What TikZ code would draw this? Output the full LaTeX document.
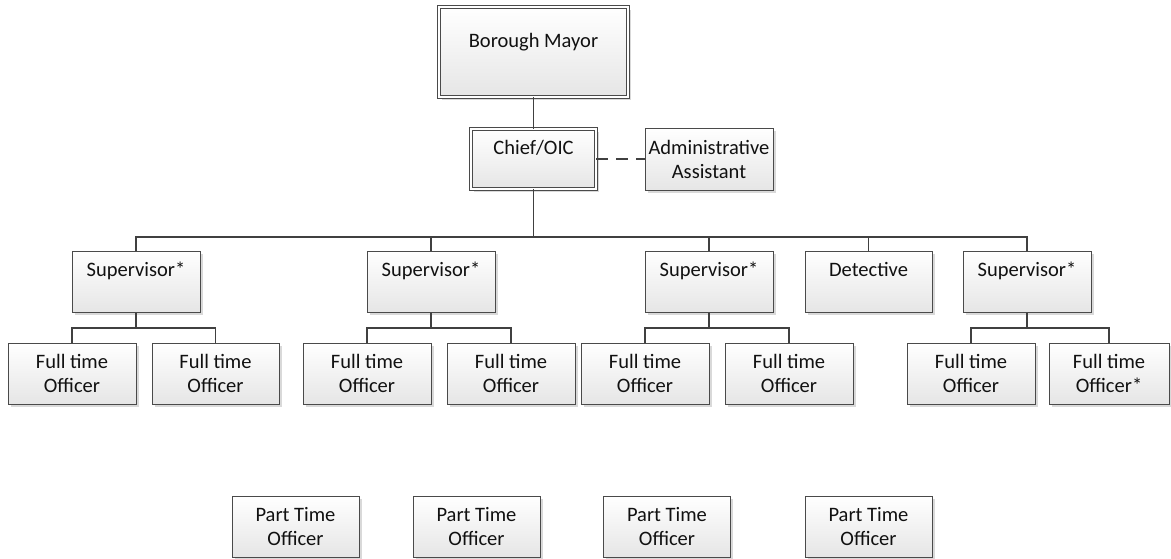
\documentclass[tikz,border=0pt]{standalone}
\usepackage{fontspec}
\setmainfont{Carlito}
\usetikzlibrary{shadows}
\definecolor{edge}{HTML}{4A4A4A}
\definecolor{wire}{HTML}{404040}
\definecolor{txt}{HTML}{111111}
\tikzset{
  box/.style={draw=edge, line width=1pt, top color=white, bottom color=black!10,
    drop shadow={shadow xshift=2.5pt, shadow yshift=-2.5pt, fill=black!15, opacity=1},
    align=center, inner sep=0pt, text=txt,
    font=\fontsize{20.5}{24}\selectfont, minimum width=128pt, minimum height=61pt},
  dbox/.style={box, double=white, double distance=2pt, line width=0.9pt},
  wirestyle/.style={draw=wire, line width=1.5pt},
  dashwire/.style={wirestyle, dash pattern=on 12pt off 8pt}
}
\begin{document}
\begin{tikzpicture}[x=1pt, y=-1pt]
\useasboundingbox (0,0) rectangle (1171,558);
% top
\node[dbox, minimum width=189pt, minimum height=90pt] (mayor) at (533.5,52) {Borough Mayor\\\mbox{}};
\node[dbox, minimum width=125pt, minimum height=60pt] (chief) at (533.5,159) {Chief/OIC\\\mbox{}};
\node[box, minimum height=62pt] (admin) at (709,159) {Administrative\\Assistant};
% second level
\node[box] (s1) at (136,281.5) {Supervisor*\\\mbox{}};
\node[box] (s2) at (431,281.5) {Supervisor*\\\mbox{}};
\node[box] (s3) at (709,281.5) {Supervisor*\\\mbox{}};
\node[box, minimum width=127pt] (det) at (868.5,281.5) {Detective\\\mbox{}};
\node[box] (s4) at (1027,281.5) {Supervisor*\\\mbox{}};
% full time
\node[box] (f1) at (72,373.5) {Full time\\Officer};
\node[box, minimum width=127pt] (f2) at (215.5,373.5) {Full time\\Officer};
\node[box] (f3) at (367,373.5) {Full time\\Officer};
\node[box] (f4) at (511,373.5) {Full time\\Officer};
\node[box] (f5) at (645,373.5) {Full time\\Officer};
\node[box] (f6) at (789,373.5) {Full time\\Officer};
\node[box] (f7) at (971,373.5) {Full time\\Officer};
\node[box, minimum width=120pt] (f8) at (1109,373.5) {Full time\\Officer*};
% part time
\node[box, minimum width=127pt] (p1) at (295.5,526.5) {Part Time\\Officer};
\node[box, minimum width=127pt] (p2) at (476.5,526.5) {Part Time\\Officer};
\node[box, minimum width=127pt] (p3) at (667,526.5) {Part Time\\Officer};
\node[box, minimum width=127pt] (p4) at (868.5,526.5) {Part Time\\Officer};
% junctions
\coordinate (bar) at (533.5,237);
\coordinate (j1) at (136,328);
\coordinate (j2) at (431,328);
\coordinate (j3) at (709,328);
\coordinate (j4) at (1027,328);
% connectors
\draw[wirestyle] (mayor.south) -- (chief.north);
\draw[dashwire] (chief.east) -- (admin.west);
\draw[wirestyle] (chief.south) -- (bar);
\foreach \n in {s1,s2,s3,det,s4} \draw[wirestyle] (bar) -| (\n.north);
\draw[wirestyle] (s1.south) -- (j1);
\draw[wirestyle] (s2.south) -- (j2);
\draw[wirestyle] (s3.south) -- (j3);
\draw[wirestyle] (s4.south) -- (j4);
\draw[wirestyle] (j1) -| (f1.north); \draw[wirestyle] (j1) -| (f2.north);
\draw[wirestyle] (j2) -| (f3.north); \draw[wirestyle] (j2) -| (f4.north);
\draw[wirestyle] (j3) -| (f5.north); \draw[wirestyle] (j3) -| (f6.north);
\draw[wirestyle] (j4) -| (f7.north); \draw[wirestyle] (j4) -| (f8.north);
\end{tikzpicture}
\end{document}
